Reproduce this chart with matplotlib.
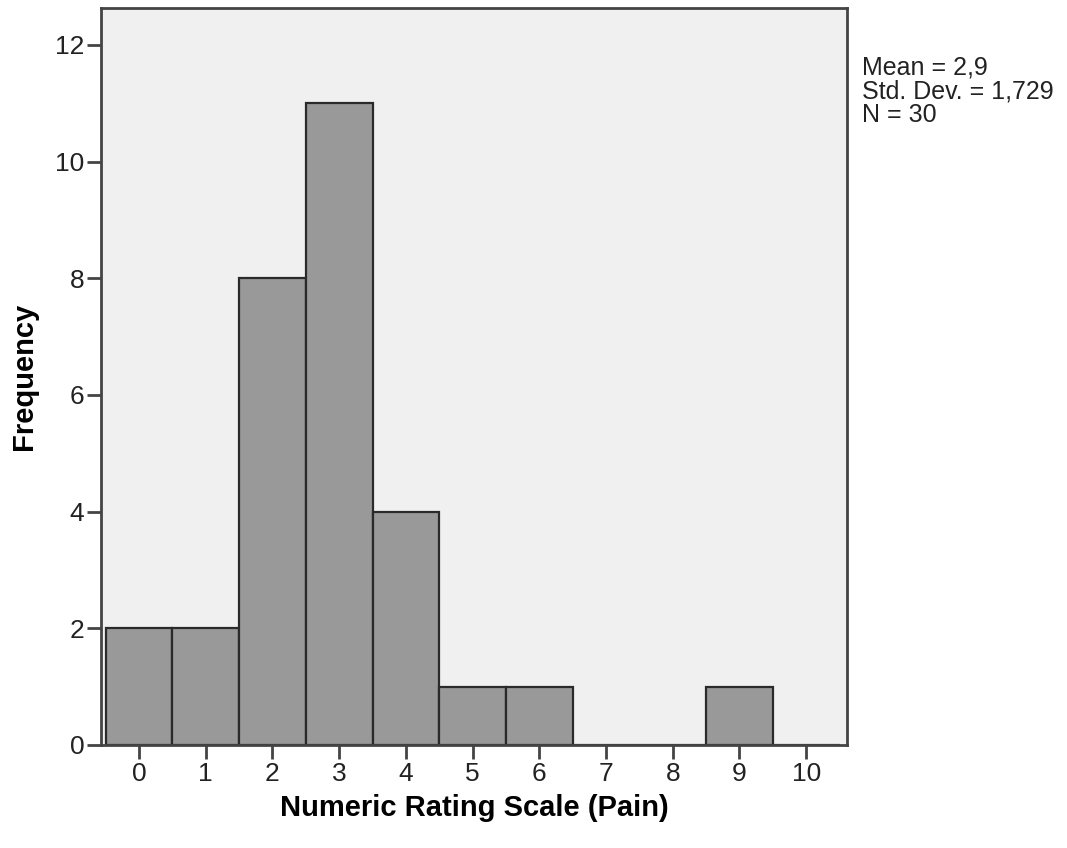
import matplotlib
matplotlib.use('Agg')
import matplotlib.pyplot as plt

# pain ratings 0..10 and how many respondents gave each
ratings = [0, 1, 2, 3, 4, 5, 6, 7, 8, 9, 10]
counts = [2, 2, 8, 11, 4, 1, 1, 0, 0, 1, 0]
y_ticks = [0, 2, 4, 6, 8, 10, 12]
stats_lines = ['Mean = 2,9', 'Std. Dev. = 1,729', 'N = 30']

plt.rcParams['font.family'] = ['Liberation Sans', 'DejaVu Sans']

fig = plt.figure(figsize=(10.67, 8.48), dpi=100)
ax = fig.add_axes([0.0947, 0.1215, 0.699, 0.869])
ax.set_facecolor('#f0f0f0')

ax.bar(ratings, counts, width=1.0, color='#999999', edgecolor='#2a2a2a',
       linewidth=1.6, zorder=2)

ax.set_xlim(-0.57, 10.61)
ax.set_ylim(0, 12.63)
ax.set_xticks(ratings)
ax.set_yticks(y_ticks)
ax.tick_params(axis='both', direction='out', length=10, width=2, color='#444444',
               labelsize=19, labelcolor='#222222', pad=2)

for s in ax.spines.values():
    s.set_color('#444444')
    s.set_linewidth(2)

ax.set_xlabel('Numeric Rating Scale (Pain)', fontsize=21, fontweight='bold',
              labelpad=6)
ax.set_ylabel('Frequency', fontsize=21, fontweight='bold', labelpad=12)

fig.text(0.808, 0.934, '\n'.join(stats_lines), fontsize=18, color='#222222',
         va='top', ha='left', linespacing=0.97)

fig.savefig('out.png', dpi=100, facecolor='white')
